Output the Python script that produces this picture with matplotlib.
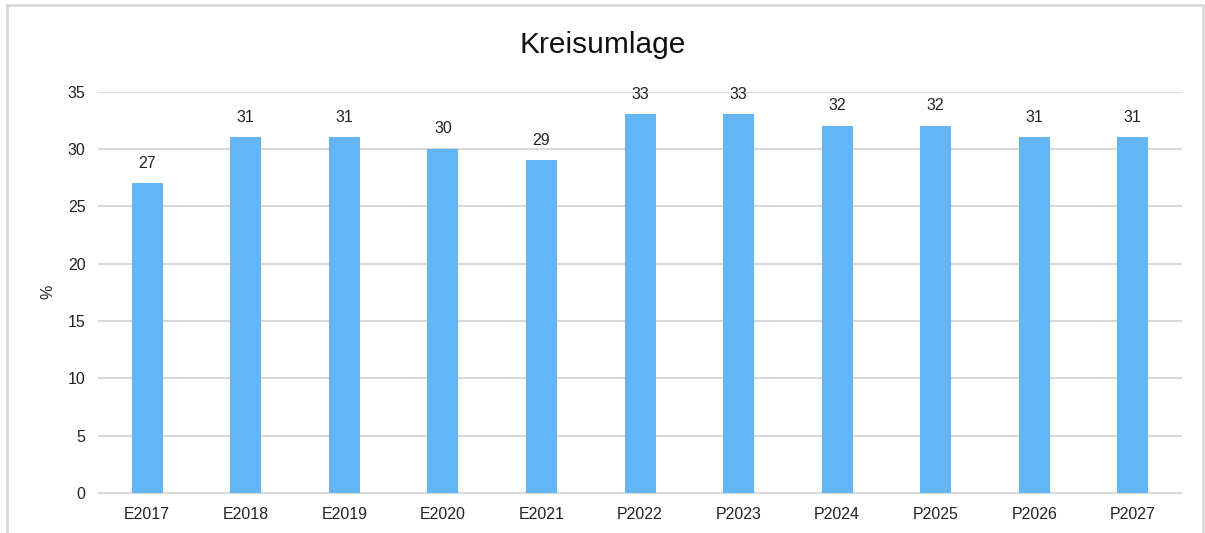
import matplotlib.pyplot as plt
from matplotlib.patches import Rectangle

plt.rcParams['font.family'] = ['Liberation Sans', 'DejaVu Sans']

# Kreisumlage in Prozent
jahre = ['E2017', 'E2018', 'E2019', 'E2020', 'E2021',
         'P2022', 'P2023', 'P2024', 'P2025', 'P2026', 'P2027']
werte = [27, 31, 31, 30, 29, 33, 33, 32, 32, 31, 31]

fig = plt.figure(figsize=(12.05, 5.33), dpi=100)
ax = fig.add_axes([0.0813, 0.075, 0.8997, 0.7533])

x = range(len(jahre))
bars = ax.bar(x, werte, width=0.315, color='#64B5F6', zorder=3)
for xi, v in zip(x, werte):
    ax.text(xi, v + 1.1, str(v), ha='center', va='bottom', fontsize=11.5, color='#222222')

ax.set_xlim(-0.5, len(jahre) - 0.5)
ax.set_ylim(0, 35)
ax.set_yticks(range(0, 36, 5))
ax.set_xticks(list(x))
ax.set_xticklabels(jahre)
ax.tick_params(axis='both', length=0, labelsize=11.5, colors='#222222')
ax.tick_params(axis='y', pad=9)
ax.tick_params(axis='x', pad=10)
ax.grid(axis='y', color='#D9D9D9', linewidth=1.5, zorder=0)
for s in ['top', 'right', 'left']:
    ax.spines[s].set_visible(False)
ax.spines['bottom'].set_color('#D9D9D9')
ax.spines['bottom'].set_linewidth(1.5)
ax.set_ylabel('%', fontsize=11.5, color='#222222', labelpad=9)

fig.text(0.5, 1 - 45 / 533, 'Kreisumlage', ha='center', va='center', fontsize=21.5, color='#111111')

fig.patches.append(Rectangle((7 / 1205, -0.1), 1196 / 1205, 1.1 - 5 / 533,
                             transform=fig.transFigure, fill=False,
                             edgecolor='#D9D9D9', linewidth=2))

fig.savefig('out.png', dpi=100)
